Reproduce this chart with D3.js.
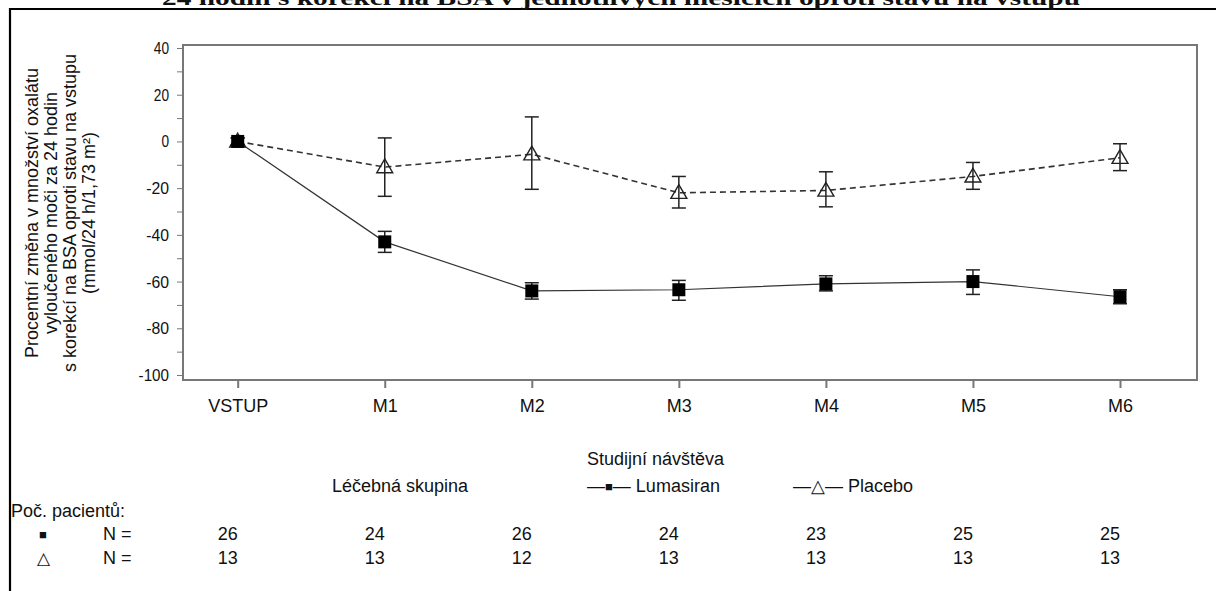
<!DOCTYPE html>
<meta charset="utf-8">
<style>
body { margin: 0; background: #fff; }
text { font-family: "Liberation Sans", Arial, sans-serif; fill: #111; font-size: 18px; }
.axis path, .axis line { stroke: #777; }
.axis text { font-size: 18px; fill: #111; }
</style>
<svg width="1216" height="591"></svg>
<script src="https://d3js.org/d3.v7.min.js"></script>
<script>
// data
var visits = ['VSTUP', 'M1', 'M2', 'M3', 'M4', 'M5', 'M6'];
var lumaMean = [0, -43, -64, -63.5, -61, -60, -66.5];
var lumaLow  = [-1.5, -47.5, -67.5, -68, -64, -65.5, -69.5];
var lumaHigh = [1.5, -38.5, -60.5, -59.5, -57.5, -55, -63.5];
var placMean = [0, -11, -5.5, -22, -21, -15, -7];
var placLow  = [-1.5, -23.5, -20.5, -28.5, -28, -20.5, -12.5];
var placHigh = [1.5, 1.5, 10.5, -15, -13, -9, -1];
var nLuma = [26, 24, 26, 24, 23, 25, 25];
var nPlac = [13, 13, 12, 13, 13, 13, 13];
var yTicks = [40, 20, 0, -20, -40, -60, -80, -100];

var svg = d3.select('svg');

// frame
svg.append('path')
  .attr('d', 'M10,591 V9 H1216')
  .attr('fill', 'none').attr('stroke', '#000').attr('stroke-width', 2.2);

// title (cut off at the top)
svg.append('text')
  .attr('x', 621).attr('y', 5)
  .attr('text-anchor', 'middle')
  .attr('textLength', 918).attr('lengthAdjust', 'spacingAndGlyphs')
  .style('font-family', '"Liberation Serif", "Times New Roman", serif')
  .style('font-weight', 'bold').style('font-size', '21px')
  .text('24 hodin s korekcí na BSA v jednotlivých měsících oproti stavu na vstupu');

var box = {left: 183, right: 1197, top: 45, bottom: 380};
var x = d3.scalePoint().domain(visits).range([237.7, 1120]);
var y = d3.scaleLinear().domain([-100, 40]).range([375, 48]);

// plot box
svg.append('rect')
  .attr('x', box.left).attr('y', box.top)
  .attr('width', box.right - box.left).attr('height', box.bottom - box.top)
  .attr('fill', 'none').attr('stroke', '#777').attr('stroke-width', 2);

// y axis with minor ticks
var gy = svg.append('g').attr('class', 'axis')
  .attr('transform', `translate(${box.left}, 0)`);
gy.call(d3.axisLeft(y).tickValues(d3.range(-100, 41, 10)).tickSize(6).tickFormat(''))
  .call(g => g.select('.domain').remove());
gy.selectAll('text.lbl').data(yTicks).enter().append('text')
  .attr('class', 'lbl')
  .attr('x', -14).attr('y', d => y(d) + 6)
  .attr('text-anchor', 'end')
  .style('font-size', '17px')
  .attr('textLength', d => String(d).length * 7.6)
  .attr('lengthAdjust', 'spacingAndGlyphs')
  .text(d => d);

// x axis
var gx = svg.append('g').attr('class', 'axis')
  .attr('transform', `translate(0, ${box.bottom})`);
gx.call(d3.axisBottom(x).tickSize(8).tickPadding(11))
  .call(g => g.select('.domain').remove());
gx.selectAll('line').attr('stroke-width', 2);

// y axis title
var ytitle = svg.append('text')
  .attr('transform', 'translate(0, 213) rotate(-90)')
  .attr('text-anchor', 'middle')
  .style('font-size', '18px');
['Procentní změna v množství oxalátu', 'vyloučeného moči za 24 hodin',
 's korekcí na BSA oproti stavu na vstupu', '(mmol/24 h/1,73 m²)']
  .forEach(function (t, i) {
    ytitle.append('tspan').attr('x', 0).attr('y', 38 + i * 19).text(t);
  });

// lines
var line = d3.line().x(d => x(d.v)).y(d => y(d.m));
var luma = visits.map((v, i) => ({v: v, m: lumaMean[i], lo: lumaLow[i], hi: lumaHigh[i]}));
var plac = visits.map((v, i) => ({v: v, m: placMean[i], lo: placLow[i], hi: placHigh[i]}));

svg.append('path').datum(plac).attr('d', line)
  .attr('fill', 'none').attr('stroke', '#333').attr('stroke-width', 1.6)
  .attr('stroke-dasharray', '6,4');
svg.append('path').datum(luma).attr('d', line)
  .attr('fill', 'none').attr('stroke', '#333').attr('stroke-width', 1.2);

function errorBars(data) {
  var g = svg.append('g').attr('stroke', '#222').attr('stroke-width', 1.5);
  g.selectAll('.v').data(data).enter().append('line')
    .attr('x1', d => x(d.v)).attr('x2', d => x(d.v))
    .attr('y1', d => y(d.lo)).attr('y2', d => y(d.hi));
  g.selectAll('.lo').data(data).enter().append('line')
    .attr('x1', d => x(d.v) - 7).attr('x2', d => x(d.v) + 7)
    .attr('y1', d => y(d.lo)).attr('y2', d => y(d.lo));
  g.selectAll('.hi').data(data).enter().append('line')
    .attr('x1', d => x(d.v) - 7).attr('x2', d => x(d.v) + 7)
    .attr('y1', d => y(d.hi)).attr('y2', d => y(d.hi));
}
errorBars(plac);
errorBars(luma);

// markers
var tri = d3.symbol().type(d3.symbolTriangle).size(110);
svg.selectAll('.tri').data(plac).enter().append('path')
  .attr('d', tri)
  .attr('transform', d => `translate(${x(d.v)}, ${y(d.m) + 1})`)
  .attr('fill', 'none').attr('stroke', '#222').attr('stroke-width', 1.4);
svg.selectAll('.sq').data(luma).enter().append('rect')
  .attr('x', d => x(d.v) - 6.5).attr('y', d => y(d.m) - 6.5)
  .attr('width', 13).attr('height', 13).attr('fill', '#000');

// legend
svg.append('text').attr('x', 587).attr('y', 465).text('Studijní návštěva');
svg.append('text').attr('x', 332).attr('y', 492).text('Léčebná skupina');
var l1 = svg.append('text').attr('x', 587).attr('y', 492);
l1.append('tspan').text('—');
l1.append('tspan').style('font-size', '13px').attr('dy', -1).text('■');
l1.append('tspan').attr('dy', 1).text('— Lumasiran');
svg.append('text').attr('x', 793).attr('y', 492).text('—△— Placebo');

// patient counts
svg.append('text').attr('x', 11).attr('y', 517).text('Poč. pacientů:');
svg.append('text').attr('x', 43).attr('y', 539).attr('text-anchor', 'middle').style('font-size', '13px').text('■');
svg.append('text').attr('x', 43).attr('y', 564).attr('text-anchor', 'middle').style('font-size', '17px').text('△');
svg.append('text').attr('x', 103).attr('y', 540).text('N =');
svg.append('text').attr('x', 103).attr('y', 564).text('N =');
svg.selectAll('.n1').data(nLuma).enter().append('text')
  .attr('x', (d, i) => x(visits[i]) - 10).attr('y', 540)
  .attr('text-anchor', 'middle').text(d => d);
svg.selectAll('.n2').data(nPlac).enter().append('text')
  .attr('x', (d, i) => x(visits[i]) - 10).attr('y', 564)
  .attr('text-anchor', 'middle').text(d => d);
</script>
